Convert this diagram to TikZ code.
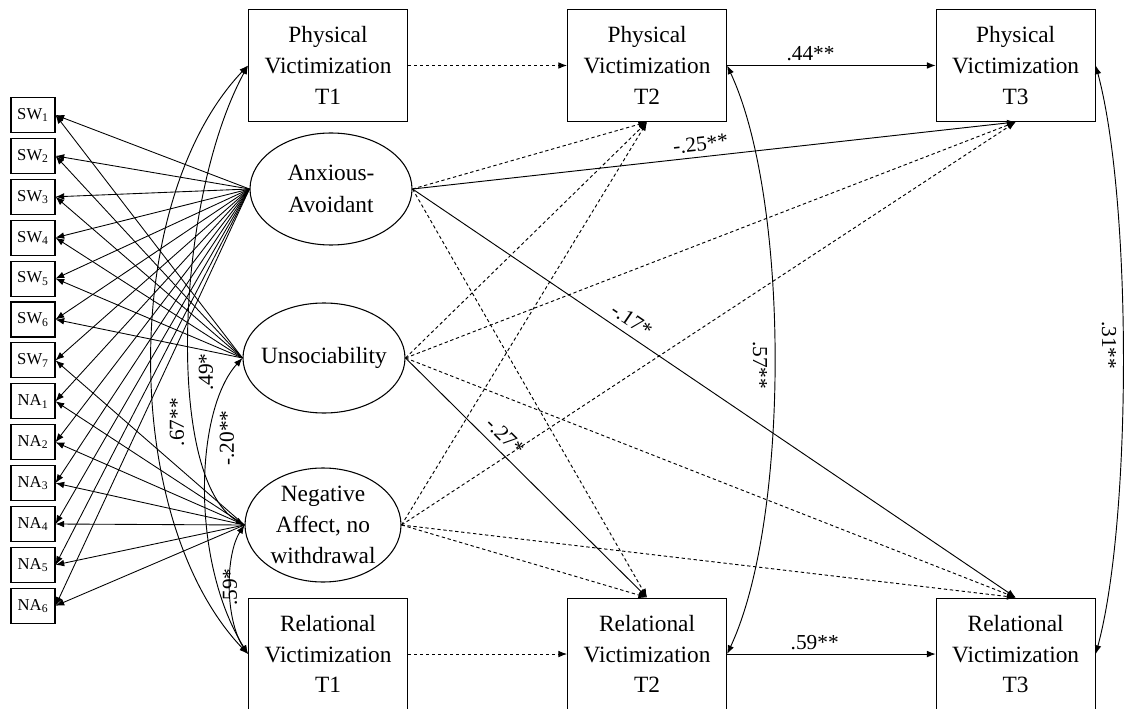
\documentclass[tikz,border=0pt]{standalone}
\usepackage{fontspec}
\setmainfont{Liberation Serif}
\usetikzlibrary{arrows.meta,positioning,shapes.geometric}

\begin{document}
\begin{tikzpicture}[
  x=0.75pt, y=-0.75pt,
  vbox/.style={draw, line width=0.8pt, minimum width=119.25pt, minimum height=84pt,
               inner sep=0pt, align=center, font=\fontsize{17.5}{23}\selectfont},
  ind/.style={draw, line width=0.8pt, minimum width=33pt, minimum height=26.25pt,
              inner sep=0pt, font=\fontsize{12.5}{14}\selectfont},
  factor/.style={draw, ellipse, line width=0.8pt, inner sep=0pt},
  ftxt/.style={align=center, font=\fontsize{17.5}{23.5}\selectfont},
  ar/.style={-{Latex[length=6.5pt,width=5pt]}, line width=0.7pt},
  load/.style={ar, line width=0.65pt},
  ns/.style={ar, dash pattern=on 2.5pt off 2pt},
  cov/.style={{Latex[length=6.5pt,width=5pt]}-{Latex[length=6.5pt,width=5pt]}, line width=0.7pt},
  coef/.style={font=\fontsize{16}{17}\selectfont, inner sep=1pt},
]
\useasboundingbox (0,0) rectangle (1124,709);

% Victimization boxes
\node[vbox] (pv1) at (328,65.5) {Physical\\Victimization\\T1};
\node[vbox, right=119.25pt of pv1] (pv2) {Physical\\Victimization\\T2};
\node[vbox, right=156.4pt of pv2] (pv3) {Physical\\Victimization\\T3};
\node[vbox, below=356.6pt of pv1] (rv1) {Relational\\Victimization\\T1};
\node[vbox, below=356.6pt of pv2] (rv2) {Relational\\Victimization\\T2};
\node[vbox, below=356.6pt of pv3] (rv3) {Relational\\Victimization\\T3};

% Latent classes
\node[factor, minimum width=121.5pt, minimum height=84pt,
      label={[ftxt]center:{Anxious-\\Avoidant}}] (aa) at (331,189) {};
\node[factor, minimum width=121.5pt, minimum height=82.5pt,
      label={[ftxt]center:{Unsociability}}] (unsoc) at (324,358) {};
\node[factor, minimum width=117pt, minimum height=85.5pt,
      label={[ftxt]center:{Negative\\Affect, no\\withdrawal}}] (na) at (323,525) {};

% Indicators
\foreach \i in {1,...,7}
  \node[ind] (sw\i) at (33,{115+40.9*(\i-1)}) {SW\textsubscript{\i}};
\foreach \i in {1,...,6}
  \node[ind] (na\i) at (33,{115+40.9*(\i+6)}) {NA\textsubscript{\i}};

% Loadings
\foreach \i in {1,...,7} \draw[load] (aa.west) -- (sw\i.east);
\foreach \i in {1,...,6} \draw[load] (aa.west) -- (na\i.east);
\foreach \i in {1,...,6} \draw[load] (unsoc.west) -- (sw\i.east);
\draw[load] (na.west) -- (sw7.east);
\foreach \i in {1,...,6} \draw[load] (na.west) -- (na\i.east);

% Stability paths
\draw[ns] (pv1) -- (pv2);
\draw[ar] (pv2) -- node[coef, above=2pt, pos=0.4] {.44**} (pv3);
\draw[ns] (rv1) -- (rv2);
\draw[ar] (rv2) -- node[coef, above=2pt, pos=0.42] {.59**} (rv3);

% Class effects on T2 and T3
\draw[ns] (aa.east) -- (pv2.south);
\draw[ns] (unsoc.east) -- (pv2.south);
\draw[ns] (na.east) -- (pv2.south);
\draw[ar] (aa.east) -- node[coef, above=3pt, sloped, pos=0.48] {-.25**} (pv3.south);
\draw[ns] (unsoc.east) -- (pv3.south);
\draw[ns] (na.east) -- (pv3.south);
\draw[ns] (aa.east) -- (rv2.north);
\draw[ar] (unsoc.east) -- node[coef, above=4pt, sloped, pos=0.37] {-.27*} (rv2.north);
\draw[ns] (na.east) -- (rv2.north);
\draw[ar] (aa.east) -- node[coef, above=4pt, sloped, pos=0.35] {-.17*} (rv3.north);
\draw[ns] (unsoc.east) -- (rv3.north);
\draw[ns] (na.east) -- (rv3.north);

% Covariances
\draw[cov] (pv1.west) .. controls (120,200) and (120,520) .. (rv1.west);
\draw[cov] (pv1.west) .. controls (175,200) and (165,480) .. (na.west);
\draw[cov] (unsoc.west) .. controls (195,410) and (190,560) .. (rv1.west);
\draw[cov] (na.west) .. controls (225,555) and (225,620) .. (rv1.west);
\draw[cov] (pv2.east) .. controls (790,200) and (790,520) .. (rv2.east);
\draw[cov] (pv3.east) .. controls (1132,200) and (1132,520) .. (rv3.east);

\node[coef, rotate=90] (c67) at (177,422) {.67**};
\node[coef, rotate=90] (c49) at (206,372) {.49*};
\node[coef, rotate=90] (c20) at (227,438) {-.20**};
\node[coef, rotate=90] (c59) at (230,587) {.59*};
\node[coef, rotate=-90] (c57) at (760,365) {.57**};
\node[coef, rotate=-90] (c31) at (1109,345) {.31**};
\end{tikzpicture}
\end{document}
